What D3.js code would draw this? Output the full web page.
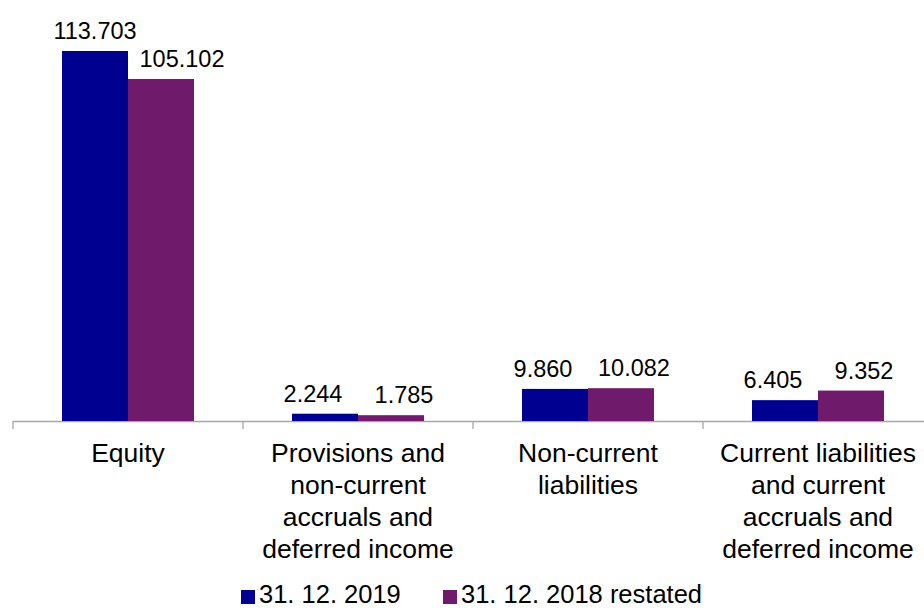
<!DOCTYPE html>
<html><head><meta charset="utf-8">
<script src="https://cdn.jsdelivr.net/npm/d3@7"></script>
<style>body{margin:0;background:#fff}svg{display:block;font-family:Arial,"Liberation Sans",sans-serif}</style>
</head><body>
<svg id="c" width="924" height="610"></svg>
<script>
const categories = [
  ["Equity"],
  ["Provisions and","non-current","accruals and","deferred income"],
  ["Non-current","liabilities"],
  ["Current liabilities","and current","accruals and","deferred income"]
];
const seriesNames = ["31. 12. 2019", "31. 12. 2018 restated"];
const values2019 = [113.703, 2.244, 9.860, 6.405];
const values2018 = [105.102, 1.785, 10.082, 9.352];
const colors = ["#000090", "#6F1A6B"];
const labelShift = [-12, 13];

const svg = d3.select("#c");
const baseY = 421;
const x = d3.scaleBand().domain(d3.range(categories.length)).range([13, 933]).padding(0);
const bw = x.bandwidth();
const x1 = d3.scaleBand().domain([0,1]).range([bw/2 - 66, bw/2 + 66]).padding(0);
const y = d3.scaleLinear().domain([0, 120]).range([baseY, baseY - 390.5]);

const seriesVals = [values2019, values2018];
const fmt = d3.format(".3f");

// axis
const axis = d3.axisBottom(x).tickSize(0).tickFormat("");
const ag = svg.append("g").attr("transform", `translate(0,${baseY})`).call(axis);
ag.select(".domain").remove();
ag.append("line").attr("x1", 13).attr("x2", 924).attr("y1", 0.5).attr("y2", 0.5).attr("stroke", "#a6a6a6").attr("stroke-width", 1.3);
d3.range(categories.length + 1).forEach(i => {
  const tx = 13 + i * bw;
  if (tx <= 924) ag.append("line").attr("x1", tx).attr("x2", tx).attr("y1", 0).attr("y2", 8).attr("stroke", "#a6a6a6").attr("stroke-width", 1.3);
});

// bars
seriesVals.forEach((vals, s) => {
  const g = svg.append("g");
  g.selectAll("rect").data(vals).join("rect")
    .attr("x", (d, i) => x(i) + x1(s))
    .attr("width", x1.bandwidth())
    .attr("y", d => y(d))
    .attr("height", d => baseY - y(d))
    .attr("fill", colors[s]);
  g.selectAll("text").data(vals).join("text")
    .attr("x", (d, i) => x(i) + x1(s) + x1.bandwidth()/2 + (d > 100 ? (s === 0 ? 0 : 21) : labelShift[s]))
    .attr("y", d => Math.max(y(d) - 12, 33))
    .attr("text-anchor", "middle")
    .attr("font-size", 23.5)
    .attr("fill", "#000")
    .text(d => fmt(d));
});

// category labels
categories.forEach((lines, i) => {
  const t = svg.append("text").attr("text-anchor", "middle").attr("font-size", 26.5).attr("fill", "#000");
  lines.forEach((ln, j) => {
    t.append("tspan").attr("x", x(i) + bw/2).attr("y", 462 + j * 32).text(ln);
  });
});

// legend
const legendX = [241, 443];
seriesNames.forEach((n, s) => {
  svg.append("rect").attr("x", legendX[s]).attr("y", 590).attr("width", 14).attr("height", 14).attr("fill", colors[s]);
  svg.append("text").attr("x", legendX[s] + 18).attr("y", 603).attr("font-size", 25.5).attr("fill", "#000").text(n);
});
</script>
</body></html>
